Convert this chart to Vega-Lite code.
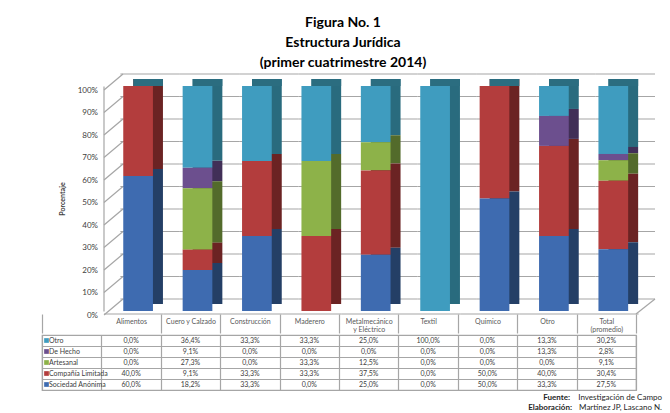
{
  "$schema": "https://vega.github.io/schema/vega-lite/v6.json",
  "background": "white",
  "padding": {"left": 41, "top": 15, "right": 0, "bottom": 0},
  "title": {
    "text": ["Figura No. 1", "Estructura Jurídica", "(primer cuatrimestre 2014)"],
    "font": "Lato", "fontSize": 14, "fontWeight": "bold", "color": "#000000",
    "lineHeight": 20, "anchor": "middle", "offset": 2, "dx": -9
  },
  "config": {
    "font": "Lato",
    "axis": {"labelFont": "Lato", "titleFont": "Lato"},
    "text": {"font": "Lato"}
  },
  "datasets": {
    "main": [
      {"cat": "Alimentos", "serie": "Otro", "v": 0.0},
      {"cat": "Alimentos", "serie": "De Hecho", "v": 0.0},
      {"cat": "Alimentos", "serie": "Artesanal", "v": 0.0},
      {"cat": "Alimentos", "serie": "Compañía Limitada", "v": 40.0},
      {"cat": "Alimentos", "serie": "Sociedad Anónima", "v": 60.0},
      {"cat": "Cuero y Calzado", "serie": "Otro", "v": 36.4},
      {"cat": "Cuero y Calzado", "serie": "De Hecho", "v": 9.1},
      {"cat": "Cuero y Calzado", "serie": "Artesanal", "v": 27.3},
      {"cat": "Cuero y Calzado", "serie": "Compañía Limitada", "v": 9.1},
      {"cat": "Cuero y Calzado", "serie": "Sociedad Anónima", "v": 18.2},
      {"cat": "Construcción", "serie": "Otro", "v": 33.3},
      {"cat": "Construcción", "serie": "De Hecho", "v": 0.0},
      {"cat": "Construcción", "serie": "Artesanal", "v": 0.0},
      {"cat": "Construcción", "serie": "Compañía Limitada", "v": 33.3},
      {"cat": "Construcción", "serie": "Sociedad Anónima", "v": 33.3},
      {"cat": "Maderero", "serie": "Otro", "v": 33.3},
      {"cat": "Maderero", "serie": "De Hecho", "v": 0.0},
      {"cat": "Maderero", "serie": "Artesanal", "v": 33.3},
      {"cat": "Maderero", "serie": "Compañía Limitada", "v": 33.3},
      {"cat": "Maderero", "serie": "Sociedad Anónima", "v": 0.0},
      {"cat": "Metalmecánico y Eléctrico", "serie": "Otro", "v": 25.0},
      {"cat": "Metalmecánico y Eléctrico", "serie": "De Hecho", "v": 0.0},
      {"cat": "Metalmecánico y Eléctrico", "serie": "Artesanal", "v": 12.5},
      {"cat": "Metalmecánico y Eléctrico", "serie": "Compañía Limitada", "v": 37.5},
      {"cat": "Metalmecánico y Eléctrico", "serie": "Sociedad Anónima", "v": 25.0},
      {"cat": "Textil", "serie": "Otro", "v": 100.0},
      {"cat": "Textil", "serie": "De Hecho", "v": 0.0},
      {"cat": "Textil", "serie": "Artesanal", "v": 0.0},
      {"cat": "Textil", "serie": "Compañía Limitada", "v": 0.0},
      {"cat": "Textil", "serie": "Sociedad Anónima", "v": 0.0},
      {"cat": "Químico", "serie": "Otro", "v": 0.0},
      {"cat": "Químico", "serie": "De Hecho", "v": 0.0},
      {"cat": "Químico", "serie": "Artesanal", "v": 0.0},
      {"cat": "Químico", "serie": "Compañía Limitada", "v": 50.0},
      {"cat": "Químico", "serie": "Sociedad Anónima", "v": 50.0},
      {"cat": "Otro", "serie": "Otro", "v": 13.3},
      {"cat": "Otro", "serie": "De Hecho", "v": 13.3},
      {"cat": "Otro", "serie": "Artesanal", "v": 0.0},
      {"cat": "Otro", "serie": "Compañía Limitada", "v": 40.0},
      {"cat": "Otro", "serie": "Sociedad Anónima", "v": 33.3},
      {"cat": "Total (promedio)", "serie": "Otro", "v": 30.2},
      {"cat": "Total (promedio)", "serie": "De Hecho", "v": 2.8},
      {"cat": "Total (promedio)", "serie": "Artesanal", "v": 9.1},
      {"cat": "Total (promedio)", "serie": "Compañía Limitada", "v": 30.4},
      {"cat": "Total (promedio)", "serie": "Sociedad Anónima", "v": 27.5}
    ],
    "grid": [
      {"g": 0}, {"g": 0.1}, {"g": 0.2}, {"g": 0.3}, {"g": 0.4}, {"g": 0.5},
      {"g": 0.6}, {"g": 0.7}, {"g": 0.8}, {"g": 0.9}, {"g": 1}
    ]
  },
  "spacing": 0,
  "vconcat": [
    {
      "width": 594,
      "height": 225,
      "view": {"stroke": null},
      "layer": [
        {
          "data": {"name": "main"},
          "mark": {"type": "text", "text": ""},
          "encoding": {
            "x": {
              "field": "cat", "type": "nominal",
              "scale": {"domain": [" ", "Alimentos", "Cuero y Calzado", "Construcción", "Maderero", "Metalmecánico y Eléctrico", "Textil", "Químico", "Otro", "Total (promedio)"], "paddingInner": 0, "paddingOuter": 0},
              "axis": {
                "orient": "bottom", "offset": 3, "domain": false, "grid": false,
                "ticks": true, "tickBand": "extent", "tickSize": 19, "tickWidth": 1.2,
                "tickColor": {"condition": {"test": "datum.value === ' '", "value": "transparent"}, "value": "#a6a6a6"},
                "labelPadding": -16, "labelFontSize": 7, "labelColor": "#595959", "labelLineHeight": 8,
                "labelAngle": 0, "labelOverlap": false,
                "labelExpr": "datum.label === 'Metalmecánico y Eléctrico' ? ['Metalmecánico', 'y Eléctrico'] : datum.label === 'Total (promedio)' ? ['Total', '(promedio)'] : datum.label",
                "title": null
              }
            }
          }
        },
        {
          "data": {"name": "grid"},
          "transform": [
            {"calculate": "['Alimentos', 'Cuero y Calzado', 'Construcción', 'Maderero', 'Metalmecánico y Eléctrico', 'Textil', 'Químico', 'Otro', 'Total (promedio)']", "as": "cats"},
            {"flatten": ["cats"]}
          ],
          "mark": {"type": "tick", "orient": "horizontal", "size": 59.4, "thickness": 1.2, "xOffset": 19, "yOffset": -12, "color": "#a6a6a6", "opacity": 1},
          "encoding": {
            "x": {"field": "cats", "type": "nominal"},
            "y": {
              "field": "g", "type": "quantitative",
              "scale": {"domain": [0, 1], "nice": false},
              "axis": {
                "orient": "left", "offset": -61.5, "format": ".0%", "tickCount": 10,
                "ticks": false, "domain": true, "domainColor": "#a6a6a6", "domainWidth": 1.2, "grid": false,
                "labelPadding": 6, "labelOffset": 4, "labelFontSize": 8, "labelColor": "#404040",
                "title": "Porcentaje", "titleFontSize": 7, "titleFontWeight": "bold", "titleColor": "#404040", "titlePadding": 12
              }
            }
          }
        },
        {
          "data": {"name": "grid"},
          "transform": [
            {"calculate": "' '", "as": "c"}
          ],
          "mark": {"type": "point", "shape": "M-1,0.842L1,-0.842", "size": 361, "filled": false, "color": "#a6a6a6", "strokeWidth": 1.2, "opacity": 1, "xOffset": 41.8, "yOffset": -4},
          "encoding": {
            "x": {"field": "c", "type": "nominal"},
            "y": {"field": "g", "type": "quantitative"}
          }
        },
        {
          "data": {"name": "main"},
          "transform": [
            {"aggregate": [{"op": "count", "as": "n"}], "groupby": ["cat"]}
          ],
          "mark": {"type": "tick", "orient": "horizontal", "size": 59.4, "thickness": 1.2, "xOffset": 2.6, "yOffset": 3, "color": "#a6a6a6", "opacity": 1},
          "encoding": {
            "x": {"field": "cat", "type": "nominal"},
            "y": {"datum": 0, "type": "quantitative"}
          }
        },
        {
          "data": {"name": "main"},
          "transform": [
            {"aggregate": [{"op": "count", "as": "n"}], "groupby": ["cat"]},
            {"filter": "datum.cat === 'Total (promedio)'"}
          ],
          "mark": {"type": "point", "shape": "M-1,0.79L1,-0.79", "size": 361, "filled": false, "color": "#a6a6a6", "strokeWidth": 1.2, "opacity": 1, "xOffset": 39.2, "yOffset": -4.5},
          "encoding": {
            "x": {"field": "cat", "type": "nominal"},
            "y": {"datum": 0, "type": "quantitative"}
          }
        },
        {
          "data": {"name": "main"},
          "transform": [
            {"calculate": "indexof(['Sociedad Anónima', 'Compañía Limitada', 'Artesanal', 'De Hecho', 'Otro'], datum.serie)", "as": "ord"}
          ],
          "mark": {"type": "bar", "width": {"band": 0.5}, "xOffset": 17, "yOffset": -7},
          "encoding": {
            "x": {"field": "cat", "type": "nominal"},
            "y": {"field": "v", "type": "quantitative", "stack": "normalize"},
            "order": {"field": "ord", "type": "quantitative"},
            "fill": {
              "field": "serie", "type": "nominal",
              "scale": {"domain": ["Otro", "De Hecho", "Artesanal", "Compañía Limitada", "Sociedad Anónima"], "range": ["#296b7e", "#412f57", "#536b2b", "#6b2323", "#243f66"]},
              "legend": null
            }
          }
        },
        {
          "data": {"name": "main"},
          "transform": [
            {"aggregate": [{"op": "sum", "field": "v", "as": "tot"}], "groupby": ["cat"]}
          ],
          "mark": {"type": "tick", "orient": "horizontal", "thickness": 7, "size": 29.7, "xOffset": 17, "yOffset": -3.5, "color": "#2b6d80", "opacity": 1},
          "encoding": {
            "x": {"field": "cat", "type": "nominal"},
            "y": {"datum": 1, "type": "quantitative"}
          }
        },
        {
          "data": {"name": "main"},
          "transform": [
            {"calculate": "indexof(['Sociedad Anónima', 'Compañía Limitada', 'Artesanal', 'De Hecho', 'Otro'], datum.serie)", "as": "ord"}
          ],
          "mark": {"type": "bar", "width": {"band": 0.5}, "xOffset": 7},
          "encoding": {
            "x": {"field": "cat", "type": "nominal"},
            "y": {"field": "v", "type": "quantitative", "stack": "normalize"},
            "order": {"field": "ord", "type": "quantitative"},
            "color": {
              "field": "serie", "type": "nominal",
              "scale": {"domain": ["Otro", "De Hecho", "Artesanal", "Compañía Limitada", "Sociedad Anónima"], "range": ["#3f9cbf", "#6c4f8e", "#8db249", "#b33d3d", "#3e6bb0"]},
              "legend": null
            }
          }
        }
      ]
    },
    {
      "width": 594,
      "height": 55,
      "view": {"stroke": "#a6a6a6", "strokeWidth": 1.2},
      "layer": [
        {
          "data": {"name": "main"},
          "transform": [
            {"calculate": "replace(format(datum.v, '.1f'), '.', ',') + '%'", "as": "lbl"}
          ],
          "mark": {"type": "text", "fontSize": 7, "color": "#404040"},
          "encoding": {
            "x": {
              "field": "cat", "type": "nominal",
              "scale": {"domain": [" ", "Alimentos", "Cuero y Calzado", "Construcción", "Maderero", "Metalmecánico y Eléctrico", "Textil", "Químico", "Otro", "Total (promedio)"], "paddingInner": 0, "paddingOuter": 0},
              "axis": {"orient": "top", "grid": true, "tickBand": "extent", "labels": false, "ticks": false, "domain": false, "title": null, "gridColor": "#a6a6a6", "gridWidth": 1.2}
            },
            "y": {
              "field": "serie", "type": "nominal",
              "scale": {"domain": ["Otro", "De Hecho", "Artesanal", "Compañía Limitada", "Sociedad Anónima"], "paddingInner": 0, "paddingOuter": 0},
              "axis": {"grid": true, "tickBand": "extent", "labels": false, "ticks": false, "domain": false, "title": null, "gridColor": "#a6a6a6", "gridWidth": 1.2}
            },
            "text": {"field": "lbl"}
          }
        },
        {
          "data": {"name": "main"},
          "transform": [
            {"aggregate": [{"op": "count", "as": "n"}], "groupby": ["serie"]}
          ],
          "mark": {"type": "text", "align": "left", "dx": 7, "fontSize": 7, "color": "#404040"},
          "encoding": {
            "x": {"datum": " ", "type": "nominal", "bandPosition": 0},
            "y": {"field": "serie", "type": "nominal"},
            "text": {"field": "serie"}
          }
        },
        {
          "data": {"name": "main"},
          "transform": [
            {"aggregate": [{"op": "count", "as": "n"}], "groupby": ["serie"]}
          ],
          "mark": {"type": "point", "shape": "square", "filled": true, "size": 22, "xOffset": 4.5, "opacity": 1},
          "encoding": {
            "x": {"datum": " ", "type": "nominal", "bandPosition": 0},
            "y": {"field": "serie", "type": "nominal"},
            "color": {
              "field": "serie", "type": "nominal",
              "scale": {"domain": ["Otro", "De Hecho", "Artesanal", "Compañía Limitada", "Sociedad Anónima"], "range": ["#3f9cbf", "#6c4f8e", "#8db249", "#b33d3d", "#3e6bb0"]},
              "legend": null
            }
          }
        },
        {
          "data": {"values": [{}]},
          "mark": {"type": "text", "text": "Fuente:", "align": "right", "fontWeight": "bold", "fontSize": 8, "color": "#262626", "dx": -66, "dy": 13.5},
          "encoding": {
            "x": {"datum": "Total (promedio)", "type": "nominal", "bandPosition": 1},
            "y": {"datum": "Sociedad Anónima", "type": "nominal"}
          }
        },
        {
          "data": {"values": [{}]},
          "mark": {"type": "text", "text": "Investigación de Campo", "align": "right", "fontSize": 8, "color": "#262626", "dx": 26, "dy": 13.5},
          "encoding": {
            "x": {"datum": "Total (promedio)", "type": "nominal", "bandPosition": 1},
            "y": {"datum": "Sociedad Anónima", "type": "nominal"}
          }
        },
        {
          "data": {"values": [{}]},
          "mark": {"type": "text", "text": "Elaboración:", "align": "right", "fontWeight": "bold", "fontSize": 8, "color": "#262626", "dx": -64, "dy": 23},
          "encoding": {
            "x": {"datum": "Total (promedio)", "type": "nominal", "bandPosition": 1},
            "y": {"datum": "Sociedad Anónima", "type": "nominal"}
          }
        },
        {
          "data": {"values": [{}]},
          "mark": {"type": "text", "text": "Martínez JP, Lascano N.", "align": "right", "fontSize": 8, "color": "#262626", "dx": 26, "dy": 23},
          "encoding": {
            "x": {"datum": "Total (promedio)", "type": "nominal", "bandPosition": 1},
            "y": {"datum": "Sociedad Anónima", "type": "nominal"}
          }
        }
      ]
    }
  ]
}
